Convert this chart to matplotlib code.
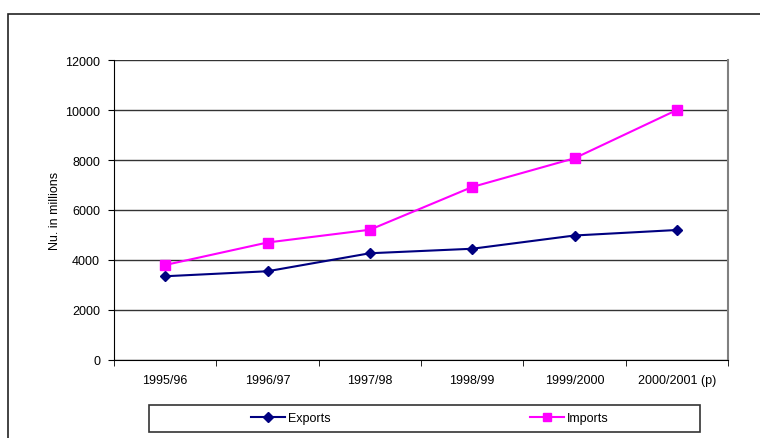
import matplotlib.pyplot as plt
from matplotlib.patches import Rectangle

# --- data ---
years = ['1995/96', '1996/97', '1997/98', '1998/99', '1999/2000', '2000/2001 (p)']
exports = [3350, 3550, 4270, 4450, 4980, 5200]
imports = [3800, 4700, 5210, 6920, 8070, 10000]
y_ticks = [0, 2000, 4000, 6000, 8000, 10000, 12000]

plt.rcParams['font.family'] = ['Liberation Sans', 'DejaVu Sans']
plt.rcParams['font.size'] = 9

W, H = 760, 439
fig = plt.figure(figsize=(W / 100, H / 100), dpi=100)

# outer chart border (runs off the right and bottom edge)
fig.patches.append(Rectangle((8 / W, -0.1), 1.2, 1 - 15 / H + 0.1, transform=fig.transFigure,
                             fill=False, edgecolor='#222222', linewidth=1.2, clip_on=False))

ax = fig.add_axes([114 / W, 1 - 361 / H, (728 - 114) / W, 300 / H])
x = list(range(len(years)))

ax.plot(x, exports, color='#000080', linewidth=1.5, marker='D', markersize=5.5, label='Exports')
ax.plot(x, imports, color='#FF00FF', linewidth=1.5, marker='s', markersize=6.5, label='Imports')

ax.set_xlim(-0.5, len(years) - 0.5)
ax.set_ylim(0, 12000)
ax.set_yticks(y_ticks)
ax.yaxis.grid(True, color='#333333', linewidth=1)
ax.set_axisbelow(True)

ax.set_xticks(x)
ax.set_xticklabels(years)
ax.set_xticks([i - 0.5 for i in range(len(years) + 1)], minor=True)
ax.tick_params(axis='x', which='major', length=0, pad=10)
ax.tick_params(axis='x', which='minor', length=4, direction='out', color='black')
ax.tick_params(axis='y', length=4, direction='out', pad=6)

ax.spines['top'].set_visible(False)
ax.spines['right'].set_color('#808080')
ax.spines['right'].set_linewidth(1.5)
ax.spines['left'].set_color('black')
ax.spines['bottom'].set_color('black')

ax.set_ylabel('Nu. in millions', labelpad=3)

# legend box
fig.patches.append(Rectangle((149 / W, 1 - 433 / H), (700 - 149) / W, 27 / H,
                             transform=fig.transFigure, fill=False,
                             edgecolor='#333333', linewidth=1.2))
fig.legend(loc='center', bbox_to_anchor=(430 / W, 1 - 419.5 / H), ncol=2, frameon=False,
           handlelength=2.7, handletextpad=0.25, columnspacing=16, borderpad=0,
           markerscale=0.85)

fig.savefig('out.png', dpi=100)
